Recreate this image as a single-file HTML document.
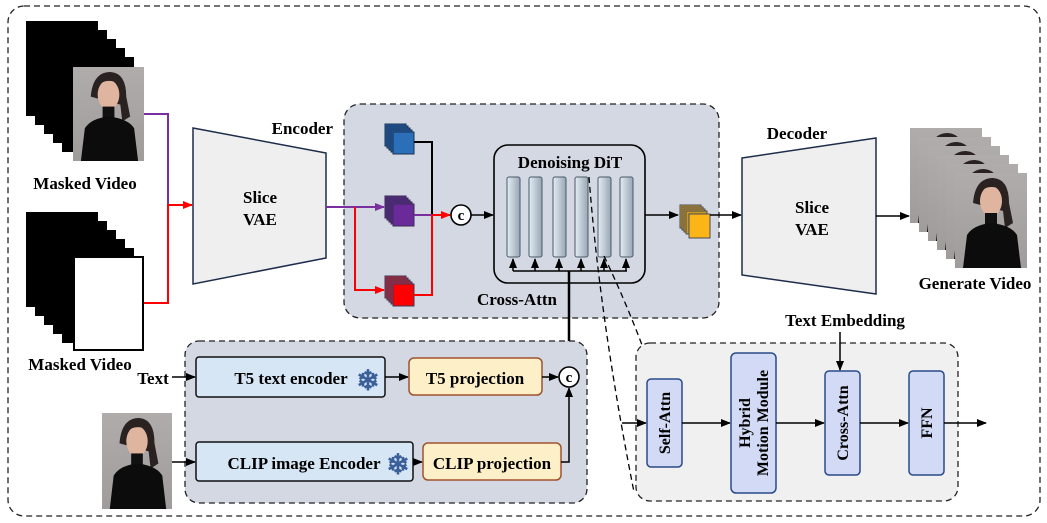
<!DOCTYPE html>
<html><head><meta charset="utf-8"><style>
html,body{margin:0;padding:0;background:#fff;}
svg{display:block;}
text{font-family:"Liberation Serif",serif;font-weight:bold;fill:#000;}
</style></head><body>
<svg width="1047" height="523" viewBox="0 0 1047 523" xmlns="http://www.w3.org/2000/svg">
<defs>
<marker id="ab" markerWidth="10" markerHeight="10" refX="9" refY="5" orient="auto" markerUnits="userSpaceOnUse"><path d="M0,1 L10,5 L0,9 z" fill="#000"/></marker>
<marker id="ar" markerWidth="10" markerHeight="10" refX="9" refY="5" orient="auto" markerUnits="userSpaceOnUse"><path d="M0,1 L10,5 L0,9 z" fill="#f00"/></marker>
<marker id="ap" markerWidth="10" markerHeight="10" refX="9" refY="5" orient="auto" markerUnits="userSpaceOnUse"><path d="M0,1 L10,5 L0,9 z" fill="#7a2fa0"/></marker>
<linearGradient id="col" x1="0" x2="1"><stop offset="0" stop-color="#e4edf4"/><stop offset="1" stop-color="#98a6b4"/></linearGradient>
<linearGradient id="bg" x1="0" y1="0" x2="0" y2="1"><stop offset="0" stop-color="#b0acac"/><stop offset="1" stop-color="#a09c9c"/></linearGradient>
<symbol id="photo" viewBox="0 0 72 95" preserveAspectRatio="none">
<rect width="72" height="95" fill="url(#bg)"/>
<path d="M18,30 Q20,5 38,5 Q54,6 54,30 L58,50 L50,55 L48,38 Z" fill="#2a2220"/>
<ellipse cx="36" cy="28" rx="11" ry="15" fill="#e0b5a0"/>
<path d="M24,22 Q30,10 46,16 Q44,8 36,8 Q26,9 24,22Z" fill="#2a2220"/>
<rect x="30" y="40" width="12" height="14" fill="#111"/>
<path d="M8,95 L12,62 Q18,52 36,50 Q56,52 62,62 L66,95 Z" fill="#0c0c0c"/>
</symbol>
</defs>

<rect x="8" y="6" width="1032" height="510" rx="16" fill="none" stroke="#222" stroke-width="1.3" stroke-dasharray="6,4"/>

<g fill="#000">
<rect x="26" y="21" width="72" height="95"/><rect x="35" y="30" width="72" height="95"/><rect x="44" y="39" width="72" height="95"/><rect x="53" y="48" width="72" height="95"/><rect x="62" y="57" width="72" height="95"/>
</g>
<use href="#photo" x="73" y="67" width="71" height="94"/>
<text x="85" y="189" font-size="17" text-anchor="middle">Masked Video</text>

<g fill="#000">
<rect x="26" y="212" width="72" height="95"/><rect x="35" y="221" width="72" height="95"/><rect x="44" y="230" width="72" height="95"/><rect x="53" y="239" width="72" height="95"/><rect x="62" y="248" width="72" height="95"/>
</g>
<rect x="74" y="257" width="69" height="93" fill="#fff" stroke="#000" stroke-width="2"/>
<text x="80" y="370" font-size="17" text-anchor="middle">Masked Video</text>

<polyline points="144,114 168,114 168,205" fill="none" stroke="#7a2fa0" stroke-width="2"/>
<polyline points="144,303 168,303 168,205 192,205" fill="none" stroke="#f00" stroke-width="2" marker-end="url(#ar)"/>

<polygon points="193,128 326,153 326,258 193,284" fill="#efefef" stroke="#1e2d4a" stroke-width="1.5"/>
<text x="333" y="134" font-size="17" text-anchor="end">Encoder</text>
<text x="260" y="203" font-size="17" text-anchor="middle">Slice</text>
<text x="260" y="225" font-size="17" text-anchor="middle">VAE</text>

<rect x="344" y="104" width="375" height="214" rx="16" fill="#d3d8e2" stroke="#222" stroke-width="1.3" stroke-dasharray="6,4"/>

<line x1="326" y1="207" x2="384" y2="207" stroke="#7a2fa0" stroke-width="2" marker-end="url(#ap)"/>
<polyline points="355,207 355,290 384,290" fill="none" stroke="#f00" stroke-width="2" marker-end="url(#ar)"/>

<g stroke="#1a2f55" stroke-width="1" fill="#2266aa">
<rect x="385" y="124" width="21" height="22"/><rect x="387" y="126" width="21" height="22"/><rect x="389" y="128" width="21" height="22"/><rect x="391" y="130" width="21" height="22"/><rect x="393" y="132" width="21" height="22" fill="#2a6fb8"/>
</g>
<g stroke="#3a2a55" stroke-width="1" fill="#5a2a8a">
<rect x="385" y="196" width="21" height="22"/><rect x="387" y="198" width="21" height="22"/><rect x="389" y="200" width="21" height="22"/><rect x="391" y="202" width="21" height="22"/><rect x="393" y="204" width="21" height="22" fill="#6a2a9a"/>
</g>
<g stroke="#3a3a5a" stroke-width="1" fill="#cc2233">
<rect x="385" y="276" width="21" height="22"/><rect x="387" y="278" width="21" height="22"/><rect x="389" y="280" width="21" height="22"/><rect x="391" y="282" width="21" height="22"/><rect x="393" y="284" width="21" height="22" fill="#f00"/>
</g>

<polyline points="414,142 432,142 432,215" fill="none" stroke="#000" stroke-width="2"/>
<line x1="414" y1="215" x2="432" y2="215" stroke="#7a2fa0" stroke-width="2"/>
<polyline points="414,295 432,295 432,215" fill="none" stroke="#f00" stroke-width="2"/>
<line x1="432" y1="215" x2="450" y2="215" stroke="#f00" stroke-width="2" marker-end="url(#ar)"/>
<circle cx="461" cy="215" r="10" fill="#fff" stroke="#000" stroke-width="1.6"/>
<text x="461" y="220" font-size="15" text-anchor="middle">c</text>
<line x1="471" y1="215" x2="493" y2="215" stroke="#000" stroke-width="1.6" marker-end="url(#ab)"/>

<rect x="494" y="145" width="151" height="138" rx="14" fill="none" stroke="#000" stroke-width="1.6"/>
<text x="570" y="168" font-size="17" text-anchor="middle">Denoising DiT</text>
<g fill="url(#col)" stroke="#4a5a6a" stroke-width="1">
<rect x="507" y="177" width="13" height="80" rx="2"/><rect x="529" y="177" width="13" height="80" rx="2"/><rect x="553" y="177" width="13" height="80" rx="2"/><rect x="575" y="177" width="13" height="80" rx="2"/><rect x="598" y="177" width="13" height="80" rx="2"/><rect x="620" y="177" width="13" height="80" rx="2"/>
</g>
<g stroke="#000" stroke-width="1.5" fill="none">
<line x1="513" y1="271" x2="627" y2="271"/>
<line x1="513" y1="271" x2="513" y2="259" marker-end="url(#ab)"/>
<line x1="535" y1="271" x2="535" y2="259" marker-end="url(#ab)"/>
<line x1="559" y1="271" x2="559" y2="259" marker-end="url(#ab)"/>
<line x1="581" y1="271" x2="581" y2="259" marker-end="url(#ab)"/>
<line x1="604" y1="271" x2="604" y2="259" marker-end="url(#ab)"/>
<line x1="626" y1="271" x2="626" y2="259" marker-end="url(#ab)"/>
</g>
<line x1="569" y1="271" x2="569" y2="367" stroke="#000" stroke-width="2.5"/>
<text x="517" y="305" font-size="17" text-anchor="middle">Cross-Attn</text>

<line x1="645" y1="215" x2="678" y2="215" stroke="#000" stroke-width="1.6" marker-end="url(#ab)"/>
<g stroke="#4a4a5a" stroke-width="1" fill="#c89a20">
<rect x="680" y="205" width="21" height="23"/><rect x="682" y="207" width="21" height="23"/><rect x="684" y="209" width="21" height="23"/><rect x="686" y="211" width="21" height="23"/><rect x="689" y="214" width="21" height="24" fill="#fbb516"/>
</g>
<line x1="710" y1="215" x2="741" y2="215" stroke="#000" stroke-width="1.6" marker-end="url(#ab)"/>

<path d="M589,177 Q600,320 634,492" fill="none" stroke="#000" stroke-width="1.3" stroke-dasharray="6,4"/>
<path d="M604,256 Q625,300 642,345" fill="none" stroke="#000" stroke-width="1.3" stroke-dasharray="6,4"/>

<polygon points="742,158 876,138 876,294 742,275" fill="#efefef" stroke="#1e2d4a" stroke-width="1.5"/>
<text x="797" y="139" font-size="17" text-anchor="middle">Decoder</text>
<text x="812" y="213" font-size="17" text-anchor="middle">Slice</text>
<text x="812" y="235" font-size="17" text-anchor="middle">VAE</text>
<line x1="876" y1="216" x2="909" y2="216" stroke="#000" stroke-width="1.6" marker-end="url(#ab)"/>

<use href="#photo" x="910" y="128" width="72" height="95"/>
<use href="#photo" x="919" y="137" width="72" height="95"/>
<use href="#photo" x="928" y="146" width="72" height="95"/>
<use href="#photo" x="937" y="155" width="72" height="95"/>
<use href="#photo" x="946" y="164" width="72" height="95"/>
<use href="#photo" x="955" y="173" width="72" height="95"/>
<text x="975" y="289" font-size="17" text-anchor="middle">Generate Video</text>

<rect x="185" y="341" width="402" height="162" rx="14" fill="#d3d8e2" stroke="#222" stroke-width="1.3" stroke-dasharray="6,4"/>
<text x="153" y="384" font-size="17" text-anchor="middle">Text</text>
<line x1="172" y1="377" x2="195" y2="377" stroke="#000" stroke-width="1.5" marker-end="url(#ab)"/>
<rect x="196" y="357" width="189" height="40" rx="3" fill="#d6e6f5" stroke="#111" stroke-width="1.5"/>
<text x="291" y="384" font-size="17" text-anchor="middle">T5 text encoder</text>
<text x="368" y="390" font-size="28" text-anchor="middle" style="fill:#3a5f9a">❄</text>
<line x1="385" y1="377" x2="408" y2="377" stroke="#000" stroke-width="1.5" marker-end="url(#ab)"/>
<rect x="409" y="358" width="133" height="37" rx="5" fill="#fdf0c8" stroke="#a0522d" stroke-width="1.5"/>
<text x="475" y="384" font-size="17" text-anchor="middle">T5 projection</text>
<line x1="542" y1="377" x2="558" y2="377" stroke="#000" stroke-width="1.5" marker-end="url(#ab)"/>
<circle cx="569" cy="377" r="10" fill="#fff" stroke="#000" stroke-width="1.6"/>
<text x="569" y="382" font-size="15" text-anchor="middle">c</text>

<use href="#photo" x="102" y="413" width="70" height="96"/>
<line x1="172" y1="462" x2="195" y2="462" stroke="#000" stroke-width="1.5" marker-end="url(#ab)"/>
<rect x="196" y="442" width="217" height="39" rx="3" fill="#d6e6f5" stroke="#111" stroke-width="1.5"/>
<text x="304" y="469" font-size="17" text-anchor="middle">CLIP image Encoder</text>
<text x="398" y="474" font-size="28" text-anchor="middle" style="fill:#3a5f9a">❄</text>
<line x1="413" y1="462" x2="422" y2="462" stroke="#000" stroke-width="1.5" marker-end="url(#ab)"/>
<rect x="423" y="443" width="138" height="37" rx="5" fill="#fdf0c8" stroke="#a0522d" stroke-width="1.5"/>
<text x="492" y="469" font-size="17" text-anchor="middle">CLIP projection</text>
<polyline points="561,462 569,462 569,388" fill="none" stroke="#000" stroke-width="1.5" marker-end="url(#ab)"/>

<rect x="636" y="343" width="322" height="158" rx="14" fill="#f0f0f0" stroke="#222" stroke-width="1.3" stroke-dasharray="6,4"/>
<text x="845" y="326" font-size="17" text-anchor="middle">Text Embedding</text>
<line x1="840" y1="332" x2="840" y2="370" stroke="#000" stroke-width="1.5" marker-end="url(#ab)"/>
<line x1="622" y1="423" x2="646" y2="423" stroke="#000" stroke-width="1.5" marker-end="url(#ab)"/>
<rect x="647" y="379" width="35" height="88" rx="4" fill="#d2daf5" stroke="#2a4a8a" stroke-width="1.5"/>
<text transform="translate(670,423) rotate(-90)" font-size="16" text-anchor="middle">Self-Attn</text>
<line x1="682" y1="423" x2="730" y2="423" stroke="#000" stroke-width="1.5" marker-end="url(#ab)"/>
<rect x="731" y="353" width="45" height="140" rx="5" fill="#d2daf5" stroke="#2a4a8a" stroke-width="1.5"/>
<text transform="translate(750,423) rotate(-90)" font-size="16" text-anchor="middle">Hybrid</text>
<text transform="translate(768,423) rotate(-90)" font-size="16" text-anchor="middle">Motion Module</text>
<line x1="776" y1="423" x2="824" y2="423" stroke="#000" stroke-width="1.5" marker-end="url(#ab)"/>
<rect x="825" y="371" width="35" height="104" rx="4" fill="#d2daf5" stroke="#2a4a8a" stroke-width="1.5"/>
<text transform="translate(848,423) rotate(-90)" font-size="16" text-anchor="middle">Cross-Attn</text>
<line x1="860" y1="423" x2="908" y2="423" stroke="#000" stroke-width="1.5" marker-end="url(#ab)"/>
<rect x="909" y="371" width="35" height="104" rx="4" fill="#d2daf5" stroke="#2a4a8a" stroke-width="1.5"/>
<text transform="translate(932,423) rotate(-90)" font-size="16" text-anchor="middle">FFN</text>
<line x1="944" y1="423" x2="986" y2="423" stroke="#000" stroke-width="1.5" marker-end="url(#ab)"/>
</svg>
</body></html>
